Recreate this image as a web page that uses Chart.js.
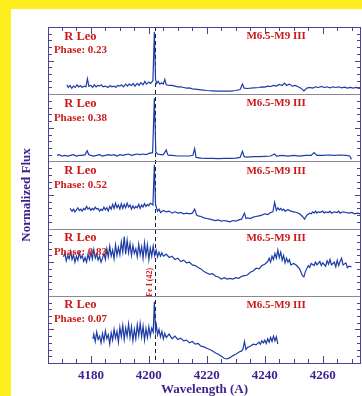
<!DOCTYPE html>
<html><head><meta charset="utf-8">
<script src="https://cdn.jsdelivr.net/npm/chart.js@4/dist/chart.umd.min.js"></script>
<style>
html,body{margin:0;padding:0;background:#fdee1e;width:362px;height:396px;overflow:hidden;}
#wrap{position:absolute;left:11px;top:9px;width:351px;height:387px;background:#fff;}
canvas{display:block;}
</style></head><body>
<div id="wrap"><canvas id="c" width="351" height="387"></canvas></div>
<script>
// ---- data ----
const X_MIN = 4165.2, X_MAX = 4273.2;
const X_TICKS = [4180, 4200, 4220, 4240, 4260];
const X_MINOR = [4170,4175,4180,4185,4190,4195,4200,4205,4210,4215,4220,4225,4230,4235,4240,4245,4250,4255,4260,4265,4270];
const Y_TICKS = [1,2,3,4,5,6,7,8,9];
const FE_LINE = 4202;
const FE_LABEL = 'Fe I (42)';
const STAR = 'R Leo';
const SPTYPE = 'M6.5-M9 III';
const PHASES = ['0.23','0.38','0.52','0.83','0.07'];

const wl1 = [4171.7,4172.2,4172.8,4173.4,4174,4174.6,4175.2,4175.8,4176.4,4177,4177.6,4178.3,4178.8,4179.3,4180,4180.6,4181.2,4181.8,4182.4,4183,4183.6,4184.2,4185,4186,4186.6,4187.2,4188,4188.6,4189.2,4190,4190.6,4191.2,4192,4192.6,4193.2,4194,4194.6,4195.2,4196,4196.6,4197.2,4198,4198.6,4199.2,4200,4200.6,4201.4,4201.9,4202.3,4202.7,4203.2,4203.8,4204.4,4205,4205.5,4206,4207,4208,4209,4210,4211,4212,4213,4214,4215,4216,4218,4220,4222,4224,4226,4228,4230,4231.5,4232.3,4232.9,4234,4236,4238,4239,4240,4241,4242,4243,4244,4245,4246,4246.8,4247.5,4248.5,4249.5,4250.5,4251.5,4252.5,4253.5,4254.5,4255.5,4256.5,4257.5,4258.5,4259.5,4260.5,4261.5,4262.5,4263.5,4264.5,4265.5,4266.5,4267.5,4268.5,4269.5,4270.5,4271.5,4272.5,4273.2];
const flux1 = [1.4,1.0,1.3,0.9,1.2,1.0,1.4,1.1,1.3,1.0,1.2,1.1,2.3,1.2,1.3,1.0,1.4,1.1,1.3,1.2,1.4,1.1,1.2,1.0,1.3,1.1,1.2,1.0,1.3,1.2,1.4,1.1,1.5,1.2,1.5,1.3,1.6,1.2,1.6,1.3,1.7,1.4,1.9,1.5,1.8,1.6,2.0,9.3,2.2,1.6,1.9,1.5,1.7,1.5,2.2,1.4,1.3,1.3,1.2,1.1,1.1,1.0,0.9,0.95,0.8,0.75,0.65,0.55,0.5,0.45,0.45,0.45,0.55,0.7,1.5,0.9,0.85,0.95,1.0,1.1,1.05,1.2,1.15,1.3,1.2,1.45,1.3,1.65,1.3,1.5,1.2,1.3,1.1,0.9,0.5,0.9,1.0,0.9,1.1,1.0,1.15,1.0,1.1,0.95,1.1,1.0,1.1,0.95,1.05,0.9,1.0,0.9,1.0,0.85,0.9];

const wl2 = [4168.3,4169,4170,4171,4172,4173,4174,4175,4176,4177,4178,4178.7,4179.3,4180,4181,4182,4183,4184,4185,4186,4187,4188,4189,4190,4191,4192,4193,4194,4195,4196,4197,4198,4199,4200,4201.3,4201.9,4202.4,4203,4204,4205,4206,4206.5,4207,4208,4210,4212,4214,4215.2,4215.8,4216.3,4218,4220,4222,4224,4226,4228,4230,4231.5,4232.3,4232.9,4234,4236,4238,4240,4242,4243.4,4244,4246,4248,4250,4252,4254,4256,4257,4258,4260,4262,4264,4266,4268,4269.3,4269.9];
const flux2 = [0.9,1.0,0.8,0.9,0.8,0.9,1.0,0.8,0.9,0.9,1.0,1.6,1.0,0.9,0.8,0.9,1.0,0.8,0.9,1.0,0.9,1.0,0.8,1.0,0.9,1.0,1.1,0.9,1.0,1.1,1.0,1.1,1.0,1.2,1.3,9.4,1.4,1.1,1.0,1.0,1.7,1.0,0.9,0.9,0.8,0.8,0.8,0.9,1.9,0.6,0.5,0.45,0.45,0.4,0.45,0.45,0.5,0.6,1.5,0.7,0.65,0.7,0.7,0.75,0.8,1.1,0.8,0.9,0.8,0.9,0.8,0.9,0.9,1.3,0.9,0.9,0.95,0.9,0.95,0.9,0.8,0.3];

const wl3 = [4172.8,4173.5,4174,4174.5,4175,4175.5,4176,4176.5,4177,4177.5,4178,4178.5,4179,4179.5,4180,4180.5,4181,4181.5,4182,4182.5,4183,4183.5,4184,4184.5,4185,4185.5,4186,4186.5,4187,4187.5,4188,4188.5,4189,4189.5,4190,4190.5,4191,4191.5,4192,4192.5,4193,4193.5,4194,4194.5,4195,4195.5,4196,4196.5,4197,4197.5,4198,4198.5,4199,4199.5,4200,4200.5,4201.4,4201.9,4202.3,4202.7,4203,4203.5,4204,4205,4206,4207,4208,4209,4210,4211,4212,4213,4214,4215,4215.8,4216.5,4217,4218,4219,4220,4221,4222,4223,4224,4225,4226,4227,4228,4229,4230,4231,4232,4233,4233.5,4234,4235,4236,4237,4238,4239,4240,4241,4242,4242.8,4243.4,4244,4244.5,4245,4245.5,4246,4246.5,4247,4248,4249,4250,4251,4252,4253,4253.7,4254.5,4255.5,4256,4256.5,4257,4257.5,4258,4258.5,4259,4260,4260.5,4261,4262,4262.5,4263,4264,4265,4265.5,4266,4267,4268,4269,4270,4271,4272,4273];
const flux3 = [3.0,2.6,2.9,2.5,2.8,3.1,2.7,2.9,2.6,3.0,2.8,3.3,2.9,3.1,2.7,3.0,2.8,3.2,2.9,3.0,2.6,2.9,2.7,3.2,2.8,3.1,2.6,3.3,2.9,3.6,3.0,3.8,3.1,3.5,2.9,3.7,3.0,3.6,3.1,3.8,3.2,3.5,2.9,3.4,3.0,3.3,3.1,3.6,3.0,3.5,3.2,3.7,3.3,3.6,3.4,3.8,3.5,9.5,3.6,3.0,2.6,2.9,2.4,2.7,2.5,2.6,2.3,2.5,2.3,2.4,2.2,2.3,2.2,2.3,2.9,2.0,1.9,1.8,1.6,1.5,1.4,1.3,1.2,1.3,1.1,1.2,1.1,1.0,1.2,1.1,1.3,1.4,2.3,1.5,1.6,1.5,1.7,1.8,1.9,2.0,2.2,2.1,2.4,2.5,3.9,2.7,3.1,2.8,3.0,2.7,2.9,2.6,2.8,2.6,2.5,2.4,2.2,1.8,1.4,2.0,2.3,2.2,2.5,2.3,2.6,2.3,2.5,2.4,2.6,2.3,2.5,2.4,2.6,2.3,2.5,2.4,2.6,2.3,2.5,2.4,2.3,2.4,2.2,2.3,2.2];

const wl4 = [4170.5,4171,4171.5,4172,4172.5,4173,4173.5,4174,4174.5,4175,4175.5,4176,4176.5,4177,4177.5,4178,4178.5,4179,4179.5,4180,4180.5,4181,4181.5,4182,4182.5,4183,4183.5,4184,4184.5,4185,4185.5,4186,4186.5,4187,4187.5,4188,4188.5,4189,4189.5,4190,4190.5,4191,4191.5,4192,4192.5,4193,4193.5,4194,4194.5,4195,4195.5,4196,4196.5,4197,4197.5,4198,4198.5,4199,4199.5,4200,4200.5,4201,4201.5,4202,4202.5,4203,4203.5,4204,4204.5,4205,4206,4207,4208,4209,4210,4211,4212,4213,4214,4215,4216,4217,4218,4219,4220,4221,4222,4223,4224,4225,4226,4227,4228,4229,4230,4231,4232,4233,4234,4235,4236,4237,4238,4239,4240,4241,4241.5,4242,4242.5,4243,4243.5,4244,4244.5,4245,4245.5,4246,4246.5,4247,4247.5,4248,4248.5,4249,4250,4251,4252,4253,4253.5,4254,4255,4255.5,4256,4257,4257.5,4258,4259,4259.5,4260,4261,4261.5,4262,4262.5,4263,4264,4264.5,4265,4265.5,4266,4266.5,4267,4268,4268.5,4269,4269.9];
const flux4 = [5.8,6.3,5.2,6.0,5.5,6.6,5.4,6.1,5.0,5.9,5.3,6.4,5.6,6.0,5.1,5.7,5.0,6.2,5.4,6.5,5.5,6.9,5.6,6.2,5.3,5.9,5.0,5.6,6.3,5.4,7.0,5.8,7.4,5.9,6.8,5.5,7.6,6.0,7.2,6.1,8.0,6.5,8.8,6.2,8.3,6.4,7.8,6.0,7.5,6.3,7.0,5.8,7.7,6.1,7.3,5.6,7.9,6.0,7.6,5.4,7.1,5.9,7.4,6.0,6.8,5.8,6.5,5.9,6.4,5.9,6.2,5.7,5.9,5.4,5.6,5.1,5.3,4.9,5.0,4.6,4.5,4.2,4.0,3.6,3.4,3.2,3.3,2.9,2.8,2.5,2.7,2.5,2.6,2.5,2.7,2.6,2.9,3.0,3.1,3.5,3.7,4.1,4.0,4.5,4.7,5.1,5.6,5.0,5.9,5.4,6.3,5.6,6.8,5.7,6.5,5.3,6.0,4.9,5.6,5.0,5.4,4.6,4.8,4.5,4.0,3.0,2.8,3.6,4.5,4.2,4.8,4.5,5.0,4.6,5.1,4.5,4.9,4.4,5.2,4.7,5.4,4.6,5.0,4.3,5.3,4.5,5.1,5.6,4.6,4.9,4.2,4.4,4.3];

const wl5 = [4180.7,4181,4181.5,4182,4182.5,4183,4183.5,4184,4184.5,4185,4185.5,4186,4186.5,4187,4187.5,4188,4188.5,4189,4189.5,4190,4190.5,4191,4191.5,4192,4192.5,4193,4193.5,4194,4194.5,4195,4195.5,4196,4196.5,4197,4197.5,4198,4198.5,4199,4199.5,4200,4200.5,4201,4201.5,4201.9,4202.3,4202.6,4203,4203.5,4204,4204.5,4205,4205.5,4206,4207,4208,4209,4210,4211,4212,4213,4214,4215,4216,4217,4218,4219,4220,4221,4222,4223,4224,4225,4226,4227,4228,4229,4230,4231,4232,4232.5,4233,4233.5,4234,4235,4236,4237,4238,4238.5,4239,4239.5,4240,4240.5,4241,4241.5,4242,4242.5,4243,4243.5,4244,4244.5];
const flux5 = [3.6,4.3,3.2,4.6,3.5,4.0,3.0,4.4,3.3,4.8,3.6,4.2,2.8,4.5,3.4,5.0,3.7,4.7,3.1,5.3,3.9,5.6,3.5,5.2,4.0,5.8,3.8,5.4,3.3,5.0,3.6,5.7,4.1,5.9,3.9,5.5,3.4,5.1,3.8,5.4,4.0,5.2,4.6,9.1,4.8,5.6,4.2,5.0,3.9,4.7,3.6,4.4,3.8,4.3,3.6,4.0,3.5,3.7,3.3,3.4,3.0,3.2,2.8,2.9,2.5,2.4,2.2,2.0,1.8,1.5,1.3,1.0,0.7,0.6,0.8,1.1,1.3,1.6,1.8,2.1,3.2,2.0,2.3,2.5,2.8,2.7,3.1,2.8,3.3,3.0,3.4,2.9,3.6,3.1,3.8,3.2,4.0,3.3,3.9,2.8];

const WLS = [wl1, wl2, wl3, wl4, wl5];
const FLUXES = [flux1, flux2, flux3, flux4, flux5];

// ---- styling ----
const SERIF = "'Liberation Serif','Times New Roman',serif";
const AXIS_COLOR = '#3d1f8e';
const RED = '#cc1818';
const BLUE = '#1d3ca6';
const PANEL_IDS = ['p0','p1','p2','p3','p4'];

const datasets = WLS.map((w, i) => ({
  data: w.map((v, j) => ({x: v, y: FLUXES[i][j]})),
  yAxisID: PANEL_IDS[i],
  borderColor: BLUE, borderWidth: 1.2, pointRadius: 0, tension: 0, fill: false
}));

const scales = {
  x: {
    type: 'linear', position: 'bottom', min: X_MIN, max: X_MAX,
    afterBuildTicks: s => { s.ticks = X_TICKS.map(v => ({value: v})); },
    afterFit: s => { s.height = 33; },
    grid: {display: false, drawTicks: false}, border: {display: false},
    ticks: {color: AXIS_COLOR, padding: 5, font: {family: SERIF, size: 13, weight: 'bold'}, callback: v => String(v)},
    title: {display: true, text: 'Wavelength (A)', color: AXIS_COLOR, padding: 0, font: {family: SERIF, size: 13, weight: 'bold', lineHeight: 1}}
  }
};
PANEL_IDS.forEach((id, i) => {
  scales[id] = {
    type: 'linear', position: 'left', stack: 'panels', stackWeight: 1, weight: 5 - i,
    min: 0, max: 10,
    ticks: {display: false, stepSize: 1},
    afterFit: s => { s.width = 37; },
    grid: {display: false, drawTicks: false}, border: {display: false},
    title: {display: i === 2, text: 'Normalized Flux', color: AXIS_COLOR, padding: {top: 8, bottom: 0}, font: {family: SERIF, size: 13, weight: 'bold'}}
  };
});

const decor = {
  id: 'decor',
  beforeDatasetsDraw(chart) {
    const ctx = chart.ctx, a = chart.chartArea, xs = chart.scales.x;
    const fx = Math.round(xs.getPixelForValue(FE_LINE)) + 0.5;
    ctx.save();
    ctx.strokeStyle = '#1b1b2b'; ctx.lineWidth = 1; ctx.setLineDash([4, 3]);
    ctx.beginPath(); ctx.moveTo(fx, a.top); ctx.lineTo(fx, a.bottom); ctx.stroke();
    ctx.restore();
  },
  afterDatasetsDraw(chart) {
    const ctx = chart.ctx, a = chart.chartArea, xs = chart.scales.x;
    ctx.save();
    // panel separators
    ctx.strokeStyle = '#8a8898'; ctx.lineWidth = 1;
    PANEL_IDS.forEach((id, i) => {
      if (i === PANEL_IDS.length - 1) return;
      const s = chart.scales[id];
      const y = Math.round(s.getPixelForValue(0)) + 0.5;
      ctx.beginPath(); ctx.moveTo(a.left, y); ctx.lineTo(a.right, y); ctx.stroke();
    });
    // frame
    ctx.strokeStyle = '#4e4290';
    ctx.strokeRect(Math.round(a.left) + 0.5, Math.round(a.top) + 0.5, Math.round(a.right - a.left) - 1, Math.round(a.bottom - a.top));
    // x ticks
    ctx.beginPath();
    X_MINOR.forEach(v => {
      const px = Math.round(xs.getPixelForValue(v)) + 0.5;
      const len = (v % 20 === 0) ? 7 : 4;
      ctx.moveTo(px, a.bottom); ctx.lineTo(px, a.bottom - len);
      ctx.moveTo(px, a.top); ctx.lineTo(px, a.top + len);
    });
    // y ticks
    PANEL_IDS.forEach(id => {
      const s = chart.scales[id];
      Y_TICKS.forEach(v => {
        const py = Math.round(s.getPixelForValue(v)) + 0.5;
        const len = v === 5 ? 6 : 4;
        ctx.moveTo(a.left, py); ctx.lineTo(a.left + len, py);
        ctx.moveTo(a.right, py); ctx.lineTo(a.right - len, py);
      });
    });
    ctx.stroke();
    // panel labels
    ctx.fillStyle = RED; ctx.textAlign = 'center'; ctx.textBaseline = 'middle';
    PANEL_IDS.forEach((id, i) => {
      const s = chart.scales[id];
      ctx.font = `bold 12.5px ${SERIF}`;
      ctx.fillText(STAR, xs.getPixelForValue(4176.4), s.getPixelForValue(8.6));
      ctx.font = `bold 11px ${SERIF}`;
      ctx.fillText('Phase: ' + PHASES[i], xs.getPixelForValue(4176.4), s.getPixelForValue(6.5));
      ctx.fillText(SPTYPE, xs.getPixelForValue(4243.9), s.getPixelForValue(8.6));
    });
    // Fe I label
    const fx = xs.getPixelForValue(FE_LINE) - 5;
    const fy = chart.scales.p3.getPixelForValue(2.0);
    ctx.translate(fx, fy); ctx.rotate(-Math.PI / 2);
    ctx.font = `bold 8px ${SERIF}`;
    ctx.fillText(FE_LABEL, 0, 0);
    ctx.restore();
  }
};

new Chart(document.getElementById('c'), {
  type: 'line',
  data: {datasets},
  options: {
    responsive: false, animation: false, devicePixelRatio: 1,
    layout: {padding: {top: 18, right: 1, left: 0, bottom: 0}},
    plugins: {legend: {display: false}, tooltip: {enabled: false}},
    scales
  },
  plugins: [decor]
});
</script>
</body></html>
